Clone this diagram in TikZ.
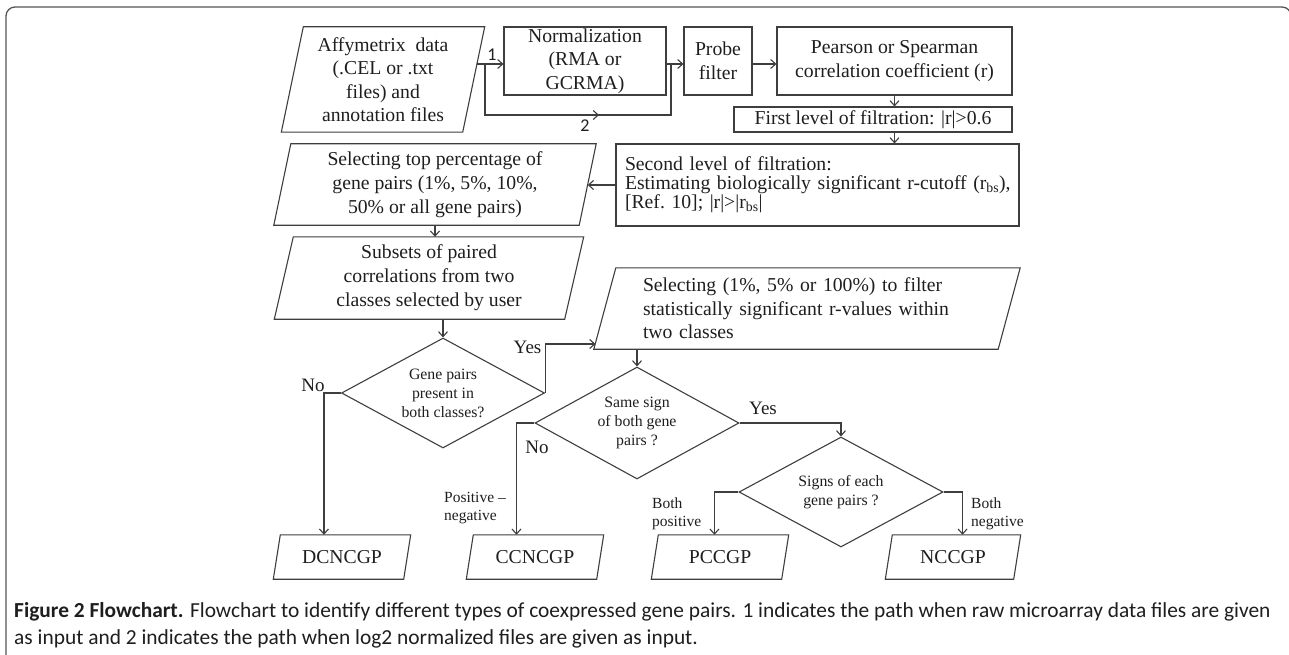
\documentclass[tikz,border=0pt]{standalone}
\usepackage{fontspec}
\setmainfont{Liberation Serif}
\newfontfamily\capfont{Carlito}
\usetikzlibrary{arrows.meta,calc,shapes.geometric}
\definecolor{ln}{RGB}{62,62,62}
\definecolor{tx}{RGB}{30,30,30}
\definecolor{fr}{RGB}{85,85,85}
\newcommand{\drawpara}[2]{\draw[conn] ($(#1.north west)+(#2,0)$) -- ($(#1.north east)+(#2,0)$) -- ($(#1.south east)+(-#2,0)$) -- ($(#1.south west)+(-#2,0)$) -- cycle;}
\tikzset{
  base/.style={inner sep=0pt, text=tx, font=\fontsize{19.7}{23.5}\selectfont, align=center},
  box/.style={base, draw=ln, line width=1.1pt, rectangle},
  pbox/.style={base, rectangle},
  dia/.style={base, draw=ln, line width=1.1pt, diamond, aspect=1.85, font=\fontsize{15.8}{19}\selectfont},
  lbl/.style={inner sep=0pt, text=tx, font=\fontsize{15.5}{18}\selectfont, align=left},
  yn/.style={inner sep=0pt, text=tx, font=\fontsize{19}{22}\selectfont},
  num/.style={inner sep=0pt, text=tx, font=\capfont\fontsize{18}{20}\selectfont},
  conn/.style={draw=ln, line width=1.1pt},
  arr/.style={conn, -{Straight Barb[length=5pt,width=9pt]}},
  captxt/.style={anchor=base west, inner sep=0pt, text=tx, font=\capfont\fontsize{21.4}{27}\selectfont},
}
\begin{document}
\begin{tikzpicture}[x=1pt,y=-1pt]
\useasboundingbox (0,0) rectangle (1289,655);
\clip (0,0) rectangle (1289,655);
% frame
\draw[fr, line width=1.3pt, rounded corners=9pt] (6,670) -- (6,7) -- (1291,7) -- (1291,670);

% top row
\node[pbox, minimum width=181pt, minimum height=105pt] (affy) at (383,79.5) {Affymetrix\ \ data\\(.CEL or .txt\\files) and\\annotation files};
\drawpara{affy}{11}
\node[box, minimum width=162pt, minimum height=68pt] (norm) at (585,61) {Normalization\\(RMA or\\GCRMA)};
\node[box, minimum width=68pt, minimum height=68pt] (probe) at (718,61) {Probe\\filter};
\node[box, minimum width=235pt, minimum height=68pt] (pearson) at (894.5,61) {Pearson or Spearman\\correlation coefficient (r)};
\node[box, minimum width=278pt, minimum height=25pt] (first) at (873,119.5) {First level of filtration: |r|>0.6};
\node[box, minimum width=403pt, minimum height=82pt, text width=385pt, align=left, font=\fontsize{19.7}{19}\selectfont] (second) at (817.5,185) {Second level of filtration:\\\mbox{Estimating biologically significant r-cutoff (r\textsubscript{bs}),}\\{}[Ref.~10]; |r|>|r\textsubscript{bs}|};

\node[pbox, minimum width=305pt, minimum height=81pt, font=\fontsize{19.7}{24}\selectfont] (sel1) at (435,184.5) {Selecting top percentage of\\gene pairs (1\%, 5\%, 10\%,\\50\% or all gene pairs)};
\drawpara{sel1}{8.5}
\node[pbox, minimum width=290pt, minimum height=82pt, font=\fontsize{19.7}{24}\selectfont] (subsets) at (429,278) {Subsets of paired\\correlations from two\\classes selected by user};
\drawpara{subsets}{9.5}

\node[dia, minimum width=203pt, minimum height=110pt] (d1) at (443,393) {Gene pairs\\present in\\both classes?};

\node[pbox, minimum width=404pt, minimum height=81pt, text width=328pt, align=left] (sel2) at (807,308.5) {Selecting (1\%, 5\% or 100\%) to filter\\statistically significant r-values within\\two classes};
\drawpara{sel2}{11}

\node[dia, minimum width=204pt, minimum height=112pt] (d2) at (637,423) {Same sign\\of both gene\\pairs ?};
\node[dia, minimum width=204pt, minimum height=110pt] (d3) at (841,492) {Signs of each\\gene pairs ?};

\node[pbox, minimum width=130pt, minimum height=44pt] (dcn) at (342,557) {DCNCGP};
\drawpara{dcn}{3.5}
\node[pbox, minimum width=130pt, minimum height=44pt] (ccn) at (535,557) {CCNCGP};
\drawpara{ccn}{3.5}
\node[pbox, minimum width=130pt, minimum height=44pt] (pcc) at (720,557) {PCCGP};
\drawpara{pcc}{3.5}
\node[pbox, minimum width=128pt, minimum height=44pt] (ncc) at (953,557) {NCCGP};
\drawpara{ncc}{3.5}

% labels
\node[num] (l1) at (492,55) {1};
\node[num] (l2) at (585,126) {2};
\node[yn] (no1) at (313,385) {No};
\node[yn] (yes1) at (527.5,347) {Yes};
\node[yn] (yes2) at (763,408) {Yes};
\node[yn] (no2) at (537,447) {No};
\node[lbl, anchor=west] (pn) at (444,508) {Positive –\\negative};
\node[lbl, anchor=west] (bp) at (652,514) {Both\\positive};
\node[lbl, anchor=west] (bn) at (971,514) {Both\\negative};

% coordinates
\coordinate (affyout) at (477,64);
\coordinate (j1) at (485,64);
\coordinate (j2) at (671,64);
\coordinate (m2) at (599,115);
\coordinate (sel2in) at (595.5,344);

% connectors
\draw[arr] (affyout) -- (j1) -- (norm.west |- j1);
\draw[conn] (j1) -- ++(0,51) -| (j2);
\draw[arr] ($(j1)+(0,51)$) -- (m2);
\draw[conn] (norm.east |- j2) -- (j2);
\draw[arr] (j2) -- (probe.west |- j2);
\draw[arr] (probe.east |- j2) -- (pearson.west |- j2);
\draw[arr] (pearson.south) -- (pearson.south |- first.north);
\draw[arr] (pearson.south |- first.south) -- (pearson.south |- second.north);
\draw[arr] (second.west) -- (second.west -| sel1.east);
\draw[arr] (sel1.south) -- (sel1.south |- subsets.north);
\draw[arr] (subsets.south -| d1.north) -- (d1.north);
\draw[arr] (d1.east) |- (sel2in);
\draw[arr] (d1.west) -| ($(d1.west |- dcn.north)+(-17,0)$);
\draw[arr] (sel2.south -| d2.north) -- (d2.north);
\draw[arr] (d2.east) -| (d3.north);
\draw[arr] (d2.west) -| ($(d2.west |- ccn.north)+(-18,0)$);
\draw[arr] (d3.west) -| ($(d3.west |- pcc.north)+(-24,0)$);
\draw[arr] (d3.east) -| ($(d3.east |- ncc.north)+(19,0)$);

% caption
\node[captxt] (cap1) at (14,617) {\textbf{Figure 2 Flowchart.} Flowchart to identify different types of coexpressed gene pairs. 1 indicates the path when raw microarray data files are given};
\node[captxt] (cap2) at (14,644) {as input and 2 indicates the path when log2 normalized files are given as input.};
\end{tikzpicture}
\end{document}
